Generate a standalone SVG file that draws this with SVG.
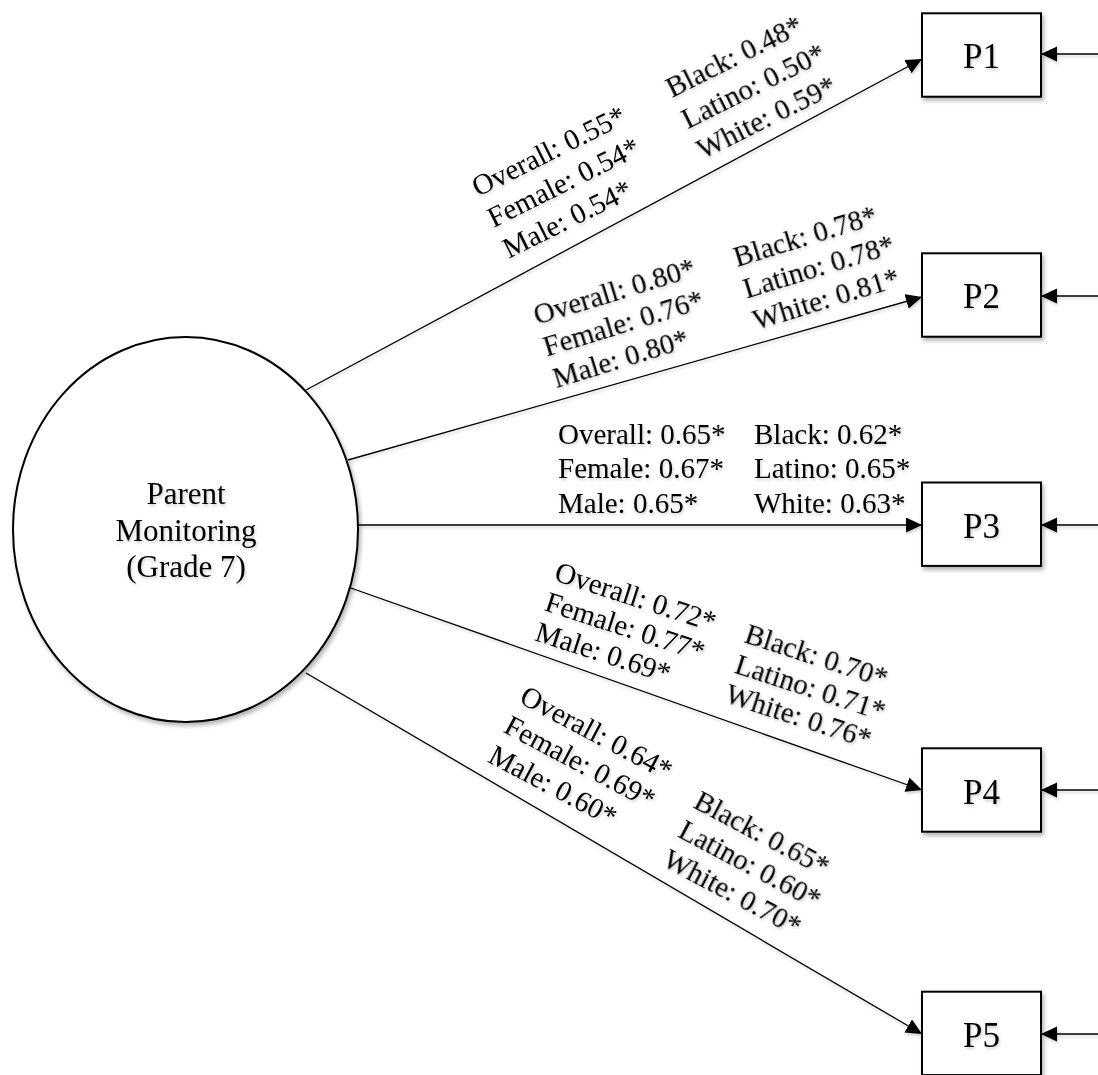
<svg xmlns="http://www.w3.org/2000/svg" width="1098" height="1075" viewBox="0 0 1098 1075">
<defs>
<style>
.bg{fill:#ffffff}
.node{fill:#ffffff;stroke:#000000;stroke-width:2}
.conn{stroke:#000000;stroke-width:1.3;fill:none;marker-end:url(#arr)}
.lbl{font-family:"Liberation Serif","Times New Roman",serif;font-size:29px;fill:#000000}
.box{font-family:"Liberation Serif","Times New Roman",serif;font-size:35px;fill:#000000;text-anchor:middle}
.ell{font-family:"Liberation Serif","Times New Roman",serif;font-size:31px;fill:#000000;text-anchor:middle}
</style>
<marker id="arr" markerUnits="userSpaceOnUse" markerWidth="18" markerHeight="16" refX="16" refY="7.5" orient="auto">
<path d="M0,0 L16,7.5 L0,15 z" fill="#000000"/>
</marker>
<filter id="sh" x="-10%" y="-10%" width="130%" height="130%">
<feDropShadow dx="2" dy="3" stdDeviation="2" flood-color="#000000" flood-opacity="0.3"/>
</filter>
<filter id="tsh" x="-10%" y="-20%" width="130%" height="150%">
<feDropShadow dx="1" dy="2" stdDeviation="1.5" flood-color="#000000" flood-opacity="0.2"/>
</filter>
</defs>
<rect class="bg" x="0" y="0" width="1098" height="1075"/>

<g id="connectors" filter="url(#tsh)">
<line class="conn" x1="306" y1="390" x2="922" y2="59"/>
<line class="conn" x1="348" y1="460" x2="922" y2="297"/>
<line class="conn" x1="358" y1="525" x2="922" y2="525"/>
<line class="conn" x1="348" y1="587" x2="922" y2="790"/>
<line class="conn" x1="306" y1="673" x2="922" y2="1034"/>
<line class="conn" x1="1100" y1="54" x2="1041" y2="54"/>
<line class="conn" x1="1100" y1="296" x2="1041" y2="296"/>
<line class="conn" x1="1100" y1="525" x2="1041" y2="525"/>
<line class="conn" x1="1100" y1="790" x2="1041" y2="790"/>
<line class="conn" x1="1100" y1="1034" x2="1041" y2="1034"/>
</g>

<g id="labels" filter="url(#tsh)">
<g id="lbl-p1-a" transform="translate(478,197) rotate(-26.5)">
<text class="lbl" x="0" y="0">Overall: 0.55*</text>
<text class="lbl" x="0" y="34.5">Female: 0.54*</text>
<text class="lbl" x="0" y="69">Male: 0.54*</text>
</g>
<g id="lbl-p1-b" transform="translate(672,98) rotate(-26.5)">
<text class="lbl" x="0" y="0">Black: 0.48*</text>
<text class="lbl" x="0" y="34.5">Latino: 0.50*</text>
<text class="lbl" x="0" y="69">White: 0.59*</text>
</g>
<g id="lbl-p2-a" transform="translate(537,325) rotate(-17)">
<text class="lbl" x="0" y="0">Overall: 0.80*</text>
<text class="lbl" x="0" y="33">Female: 0.76*</text>
<text class="lbl" x="0" y="66">Male: 0.80*</text>
</g>
<g id="lbl-p2-b" transform="translate(737,267) rotate(-17)">
<text class="lbl" x="0" y="0">Black: 0.78*</text>
<text class="lbl" x="0" y="33">Latino: 0.78*</text>
<text class="lbl" x="0" y="66">White: 0.81*</text>
</g>
<g id="lbl-p3-a">
<text class="lbl" x="558" y="444">Overall: 0.65*</text>
<text class="lbl" x="558" y="478.3">Female: 0.67*</text>
<text class="lbl" x="558" y="512.7">Male: 0.65*</text>
</g>
<g id="lbl-p3-b">
<text class="lbl" x="754" y="444">Black: 0.62*</text>
<text class="lbl" x="754" y="478.3">Latino: 0.65*</text>
<text class="lbl" x="754" y="512.7">White: 0.63*</text>
</g>
<g id="lbl-p4-a" transform="translate(553,580) rotate(18)">
<text class="lbl" x="0" y="0">Overall: 0.72*</text>
<text class="lbl" x="0" y="31.5">Female: 0.77*</text>
<text class="lbl" x="0" y="63">Male: 0.69*</text>
</g>
<g id="lbl-p4-b" transform="translate(743,642) rotate(18)">
<text class="lbl" x="0" y="0">Black: 0.70*</text>
<text class="lbl" x="0" y="31.5">Latino: 0.71*</text>
<text class="lbl" x="0" y="63">White: 0.76*</text>
</g>
<g id="lbl-p5-a" transform="translate(518,702) rotate(28)">
<text class="lbl" x="0" y="0">Overall: 0.64*</text>
<text class="lbl" x="0" y="33.5">Female: 0.69*</text>
<text class="lbl" x="0" y="67">Male: 0.60*</text>
</g>
<g id="lbl-p5-b" transform="translate(692,807) rotate(28)">
<text class="lbl" x="0" y="0">Black: 0.65*</text>
<text class="lbl" x="0" y="33">Latino: 0.60*</text>
<text class="lbl" x="0" y="66">White: 0.70*</text>
</g>
</g>

<g id="parent-monitoring">
<ellipse class="node" cx="185.5" cy="529.5" rx="172.5" ry="192.5" filter="url(#sh)"/>
<g filter="url(#tsh)">
<text class="ell" x="186" y="504">Parent</text>
<text class="ell" x="186" y="540.5">Monitoring</text>
<text class="ell" x="186" y="577">(Grade 7)</text>
</g>
</g>

<g id="P1">
<rect class="node" x="922" y="13.3" width="119" height="83.4" filter="url(#sh)"/>
<text class="box" x="981.5" y="67.5" filter="url(#tsh)">P1</text>
</g>
<g id="P2">
<rect class="node" x="922" y="253.3" width="119" height="83.4" filter="url(#sh)"/>
<text class="box" x="981.5" y="307.5" filter="url(#tsh)">P2</text>
</g>
<g id="P3">
<rect class="node" x="922" y="482.5" width="119" height="83.4" filter="url(#sh)"/>
<text class="box" x="981.5" y="537.5" filter="url(#tsh)">P3</text>
</g>
<g id="P4">
<rect class="node" x="922" y="748.3" width="119" height="83.4" filter="url(#sh)"/>
<text class="box" x="981.5" y="804" filter="url(#tsh)">P4</text>
</g>
<g id="P5">
<rect class="node" x="922" y="991.7" width="119" height="83.4" filter="url(#sh)"/>
<text class="box" x="981.5" y="1046.7" filter="url(#tsh)">P5</text>
</g>
</svg>
